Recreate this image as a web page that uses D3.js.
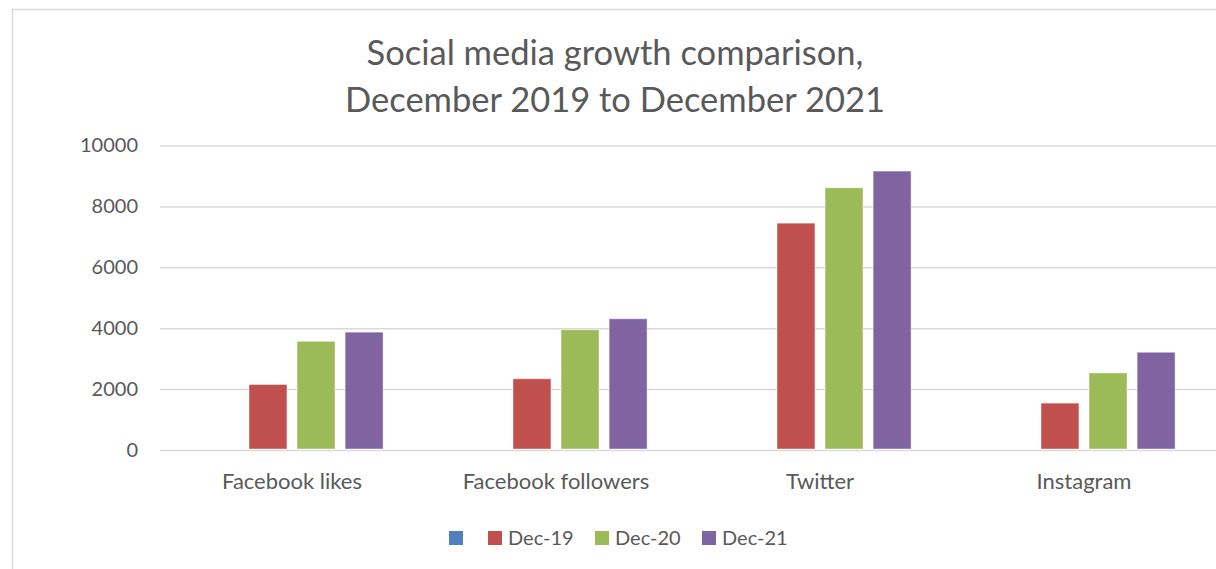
<!DOCTYPE html>
<html>
<head>
<meta charset="utf-8">
<script src="https://cdn.jsdelivr.net/npm/d3@7"></script>
<style>
  html, body { margin: 0; padding: 0; background: #fff; }
  svg { display: block; font-family: Lato, "Noto Sans", sans-serif; }
</style>
</head>
<body>
<svg id="chart" width="1216" height="569"></svg>
<script>
const categories = ['Facebook likes', 'Facebook followers', 'Twitter', 'Instagram'],
    seriesNames = ['', 'Dec-19', 'Dec-20', 'Dec-21'],
    blankValues = [null, null, null, null],
    dec19Values = [2150, 2340, 7450, 1540],
    dec20Values = [3570, 3950, 8610, 2530],
    dec21Values = [3870, 4310, 9160, 3210],
    yTicks = [0, 2000, 4000, 6000, 8000, 10000],
    titleLines = ['Social media growth comparison,', 'December 2019 to December 2021'];

const colors = ['#4f81bd', '#c0504d', '#9bbb59', '#8064a2'],
    textColor = '#595959',
    gridColor = '#d9d9d9',
    allValues = [blankValues, dec19Values, dec20Values, dec21Values];

const svg = d3.select('#chart'),
    plot = { left: 160, right: 1216, top: 145.5, bottom: 450 };

// chart frame (cropped on the right and bottom)
svg.append('path')
    .attr('d', 'M12.5,569 V9.5 H1216')
    .attr('fill', 'none')
    .attr('stroke', gridColor)
    .attr('stroke-width', 1.5);

svg.append('g')
    .selectAll('text')
    .data(titleLines)
    .join('text')
    .attr('x', 615)
    .attr('y', (d, i) => 53 + i * 47)
    .attr('dy', '0.35em')
    .attr('text-anchor', 'middle')
    .attr('fill', textColor)
    .style('font-size', '34.5px')
    .text(d => d);

const x0 = d3.scaleBand()
    .domain(categories)
    .range([plot.left, plot.right])
    .padding(0);

const x1 = d3.scaleBand()
    .domain(seriesNames.map((d, i) => i))
    .range([x0.bandwidth() * 0.155, x0.bandwidth() * 0.845])
    .paddingInner(0.21);

const y = d3.scaleLinear()
    .domain([0, 10000])
    .range([plot.bottom, plot.top]);

// gridlines + y labels
const yAxis = svg.append('g')
    .attr('transform', 'translate(' + plot.left + ',0)')
    .call(d3.axisLeft(y)
        .tickValues(yTicks)
        .tickFormat(d3.format('d'))
        .tickSize(-(plot.right - plot.left))
        .tickPadding(22));

yAxis.select('.domain').remove();
yAxis.selectAll('.tick line')
    .attr('stroke', gridColor)
    .attr('stroke-width', 1.5);
yAxis.selectAll('.tick text')
    .attr('fill', textColor)
    .style('font-size', '20px')
    .style('font-family', 'Lato, "Noto Sans", sans-serif');

// bars
const groups = svg.append('g')
    .selectAll('g')
    .data(categories)
    .join('g')
    .attr('transform', d => 'translate(' + x0(d) + ',0)');

groups.selectAll('rect')
    .data((d, ci) => allValues.map((vals, si) => ({ si: si, v: vals[ci] })).filter(d => d.v != null))
    .join('rect')
    .attr('x', d => x1(d.si))
    .attr('width', x1.bandwidth())
    .attr('y', d => y(d.v))
    .attr('height', d => y(0) - y(d.v) - 1)
    .attr('fill', d => colors[d.si])
    .attr('stroke', 'rgba(255,255,255,0.45)')
    .attr('stroke-width', 1);

// category labels
svg.append('g')
    .selectAll('text')
    .data(categories)
    .join('text')
    .attr('x', d => x0(d) + x0.bandwidth() / 2)
    .attr('y', 481)
    .attr('dy', '0.35em')
    .attr('text-anchor', 'middle')
    .attr('fill', textColor)
    .style('font-size', '22px')
    .text(d => d);

// legend
const legendX = [449, 488, 595, 702];

const legend = svg.append('g')
    .selectAll('g')
    .data(seriesNames)
    .join('g')
    .attr('transform', (d, i) => 'translate(' + legendX[i] + ',538)');

legend.append('rect')
    .attr('x', 0)
    .attr('y', -7)
    .attr('width', 14)
    .attr('height', 14)
    .attr('fill', (d, i) => colors[i]);

legend.append('text')
    .attr('x', 20)
    .attr('dy', '0.35em')
    .attr('fill', textColor)
    .style('font-size', '20px')
    .text(d => d);
</script>
</body>
</html>
